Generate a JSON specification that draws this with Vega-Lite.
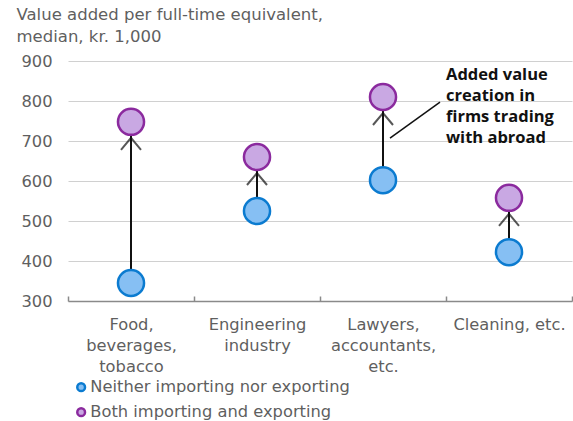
{
  "$schema": "https://vega.github.io/schema/vega-lite/v6.json",
  "autosize": "none",
  "width": 504,
  "height": 240,
  "padding": {"left": 68, "top": 61, "right": 1, "bottom": 120},
  "config": {
    "view": {"stroke": null},
    "font": "DejaVu Sans",
    "axis": {"labelFont": "DejaVu Sans", "titleFont": "DejaVu Sans"},
    "legend": {"labelFont": "DejaVu Sans"}
  },
  "datasets": {
    "firms": [
      {"category": "Food, beverages, tobacco", "group": "Neither importing nor exporting", "value": 345},
      {"category": "Food, beverages, tobacco", "group": "Both importing and exporting", "value": 748},
      {"category": "Engineering industry", "group": "Neither importing nor exporting", "value": 525},
      {"category": "Engineering industry", "group": "Both importing and exporting", "value": 660},
      {"category": "Lawyers, accountants, etc.", "group": "Neither importing nor exporting", "value": 602},
      {"category": "Lawyers, accountants, etc.", "group": "Both importing and exporting", "value": 810},
      {"category": "Cleaning, etc.", "group": "Neither importing nor exporting", "value": 422},
      {"category": "Cleaning, etc.", "group": "Both importing and exporting", "value": 558}
    ],
    "note": [
      {"category": "Lawyers, accountants, etc.", "part": "label", "value": 885, "text": "Added value\ncreation in\nfirms trading\nwith abroad"},
      {"category": "Lawyers, accountants, etc.", "part": "leader", "value": 707, "end": 797}
    ]
  },
  "encoding": {
    "x": {
      "field": "category",
      "type": "nominal",
      "sort": null,
      "scale": {"type": "band", "paddingInner": 0, "paddingOuter": 0},
      "axis": {
        "title": null,
        "labelAngle": 0,
        "labelFontSize": 16.3,
        "labelColor": "#5f5f5f",
        "labelLineHeight": 21,
        "labelPadding": 20,
        "labelBaseline": "top",
        "labelLimit": 0,
        "labelExpr": "datum.value == 'Food, beverages, tobacco' ? ['Food,', 'beverages,', 'tobacco'] : datum.value == 'Engineering industry' ? ['Engineering', 'industry'] : datum.value == 'Lawyers, accountants, etc.' ? ['Lawyers,', 'accountants,', 'etc.'] : datum.value",
        "tickBand": "extent",
        "tickSize": -5,
        "tickColor": "#8a8a8a",
        "tickWidth": 1.5,
        "domainColor": "#8a8a8a",
        "domainWidth": 1.5,
        "grid": false
      }
    },
    "y": {
      "field": "value",
      "type": "quantitative",
      "scale": {"domain": [300, 900], "nice": false, "zero": false},
      "axis": {
        "values": [300, 400, 500, 600, 700, 800, 900],
        "labelOverlap": false,
        "domain": false,
        "ticks": false,
        "labelPadding": 16,
        "labelFontSize": 16.3,
        "labelColor": "#5f5f5f",
        "gridColor": "#d0d0d0",
        "gridWidth": 1,
        "title": ["Value added per full-time equivalent,", "median, kr. 1,000"],
        "titleAngle": 0,
        "titleAlign": "left",
        "titleBaseline": "top",
        "titleX": -52,
        "titleY": -55,
        "titleFontSize": 16.5,
        "titleFontWeight": "normal",
        "titleColor": "#5f5f5f",
        "titleLineHeight": 22
      }
    }
  },
  "layer": [
    {
      "data": {"name": "firms"},
      "transform": [
        {"joinaggregate": [{"op": "max", "field": "value", "as": "withTrade"}], "groupby": ["category"]},
        {"filter": "datum.group == 'Neither importing nor exporting'"}
      ],
      "mark": {"type": "rule", "color": "#111111", "strokeWidth": 2},
      "encoding": {
        "y2": {"field": "withTrade"}
      }
    },
    {
      "data": {"name": "firms"},
      "transform": [{"filter": "datum.group == 'Both importing and exporting'"}],
      "mark": {
        "type": "point",
        "shape": "M-1,1.2L0,0L1,1.2",
        "filled": false,
        "size": 400,
        "stroke": "#111111",
        "strokeWidth": 2,
        "yOffset": 16
      }
    },
    {
      "data": {"name": "firms"},
      "mark": {"type": "point", "filled": true, "shape": "circle", "size": 680, "strokeWidth": 2.5, "opacity": 1},
      "encoding": {
        "fill": {
          "field": "group",
          "type": "nominal",
          "scale": {
            "domain": ["Neither importing nor exporting", "Both importing and exporting"],
            "range": ["#86bff3", "#c9a8e3"]
          },
          "legend": {
            "title": null,
            "orient": "none",
            "legendX": 5,
            "legendY": 318,
            "direction": "vertical",
            "symbolSize": 60,
            "symbolStrokeWidth": 2.5,
            "symbolType": "circle",
            "labelFontSize": 16.3,
            "labelColor": "#5f5f5f",
            "labelOffset": 1,
            "labelLimit": 0,
            "rowPadding": 6
          }
        },
        "stroke": {
          "field": "group",
          "type": "nominal",
          "scale": {
            "domain": ["Neither importing nor exporting", "Both importing and exporting"],
            "range": ["#0b7bd0", "#8b2a9e"]
          },
          "legend": null
        }
      }
    },
    {
      "data": {"name": "note"},
      "transform": [{"filter": "datum.part == 'leader'"}],
      "mark": {"type": "rule", "color": "#111111", "strokeWidth": 1.5, "xOffset": 7, "x2Offset": 57},
      "encoding": {
        "x2": {"field": "category"},
        "y2": {"field": "end"}
      }
    },
    {
      "data": {"name": "note"},
      "transform": [{"filter": "datum.part == 'label'"}],
      "mark": {
        "type": "text",
        "font": "Open Sans",
        "align": "left",
        "baseline": "top",
        "dx": 63,
        "fontSize": 16.5,
        "fontWeight": "bold",
        "color": "#111111",
        "lineBreak": "\n",
        "lineHeight": 21
      },
      "encoding": {
        "text": {"field": "text"}
      }
    }
  ]
}
